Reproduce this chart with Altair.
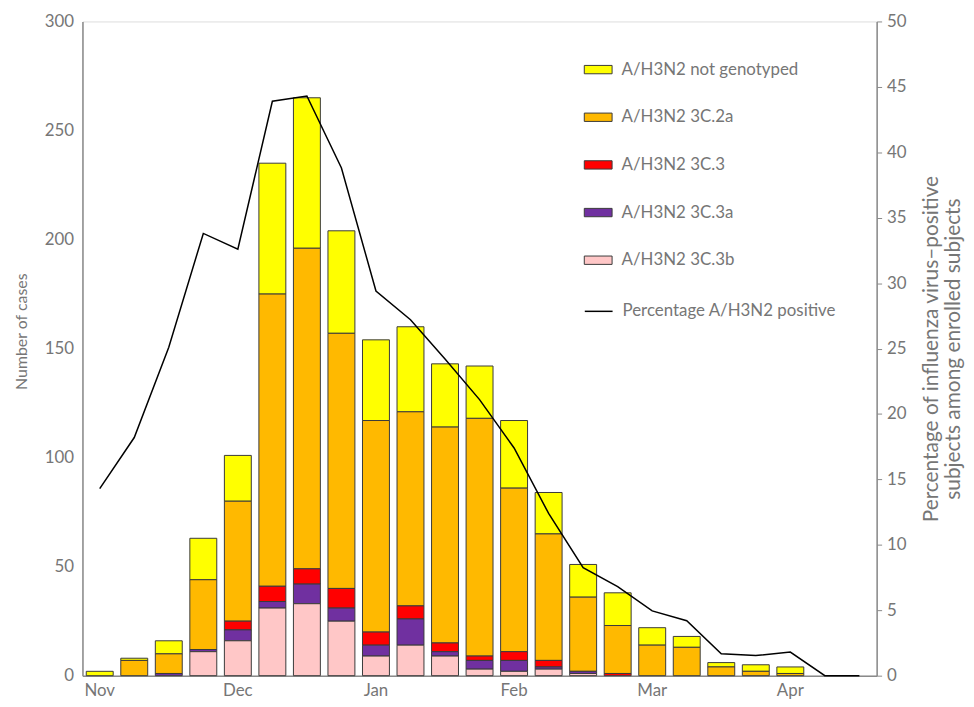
import altair as alt
import pandas as pd

weeks = [1, 2, 3, 4, 5, 6, 7, 8, 9, 10, 11, 12, 13, 14, 15, 16, 17, 18, 19, 20, 21, 22, 23]
month_weeks = [1, 5, 9, 13, 17, 21]
month_names = ["Nov", "Dec", "Jan", "Feb", "Mar", "Apr"]

not_genotyped = [2, 1, 6, 19, 21, 60, 69, 47, 37, 39, 29, 24, 31, 19, 15, 15, 8, 5, 2, 3, 3, 0, 0]
c2a = [0, 7, 9, 32, 55, 134, 147, 117, 97, 89, 99, 109, 75, 58, 34, 22, 14, 13, 4, 2, 1, 0, 0]
c3 = [0, 0, 0, 0, 4, 7, 7, 9, 6, 6, 4, 2, 4, 3, 0, 1, 0, 0, 0, 0, 0, 0, 0]
c3a = [0, 0, 1, 1, 5, 3, 9, 6, 5, 12, 2, 4, 5, 1, 1, 0, 0, 0, 0, 0, 0, 0, 0]
c3b = [0, 0, 0, 11, 16, 31, 33, 25, 9, 14, 9, 3, 2, 3, 1, 0, 0, 0, 0, 0, 0, 0, 0]
pct_positive = [14.3, 18.2, 25.1, 33.8, 32.6, 43.9, 44.3, 38.8, 29.4, 27.2, 24.2, 21.1,
                17.4, 12.4, 8.25, 6.8, 4.95, 4.2, 1.67, 1.54, 1.8, 0, 0]

series_names = ["A/H3N2 not genotyped", "A/H3N2 3C.2a", "A/H3N2 3C.3", "A/H3N2 3C.3a", "A/H3N2 3C.3b"]
series_values = [not_genotyped, c2a, c3, c3a, c3b]
series_colors = ["#FFFF00", "#FFB900", "#FF0000", "#7030A0", "#FFC7C7"]
line_name = "Percentage A/H3N2 positive"

rows = []
for si, (name, vals) in enumerate(zip(series_names, series_values)):
    for w, v in zip(weeks, vals):
        if v > 0:
            rows.append({"week": w, "series": name, "count": v, "order": len(series_names) - si})
bars_df = pd.DataFrame(rows)
line_df = pd.DataFrame({"week": weeks, "pct": pct_positive, "series": [line_name] * len(weeks)})

FONT = "Lato"
GREY = "#767676"
AXIS_GREY = "#8a8a8a"

label_expr = " : ".join(
    [f"datum.value == {w} ? '{m}'" for w, m in zip(month_weeks, month_names)]
) + " : ''"

x_enc = alt.X(
    "week:O",
    scale=alt.Scale(domain=weeks, paddingInner=0.22, paddingOuter=0.11),
    axis=alt.Axis(
        title=None, values=month_weeks, labelExpr=label_expr, labelAngle=0,
        ticks=False, labelPadding=7, labelFont=FONT, labelFontSize=17, labelColor=GREY,
        domainColor=AXIS_GREY, domainWidth=1.5,
    ),
)

bars = alt.Chart(bars_df).mark_bar(stroke="#3a3a3a", strokeWidth=1).encode(
    x=x_enc,
    y=alt.Y(
        "count:Q",
        stack="zero",
        scale=alt.Scale(domain=[0, 300], nice=False),
        axis=alt.Axis(
            title="Number of cases", values=[0, 50, 100, 150, 200, 250, 300], grid=False,
            ticks=False, labelPadding=9, labelFont=FONT, labelFontSize=17, labelColor=GREY,
            titleFont=FONT, titleFontSize=16, titleFontWeight="normal", titleColor=GREY,
            titlePadding=15, titleY=312, domainColor=AXIS_GREY, domainWidth=1.5,
        ),
    ),
    color=alt.Color(
        "series:N",
        scale=alt.Scale(domain=series_names, range=series_colors),
        legend=alt.Legend(
            title=None, orient="none", legendX=505, legendY=34,
            symbolType="M-1,-0.3H1V0.3H-1Z", symbolSize=784,
            symbolStrokeColor="#3a3a3a", symbolStrokeWidth=1, symbolOpacity=1,
            labelFont=FONT, labelFontSize=17, labelColor=GREY, labelOffset=9, labelLimit=400,
            rowPadding=25, padding=0,
        ),
    ),
    order=alt.Order("order:Q", sort="ascending"),
)

line = alt.Chart(line_df).mark_line(strokeWidth=1.5).encode(
    x=alt.X("week:O"),
    y=alt.Y(
        "pct:Q",
        scale=alt.Scale(domain=[0, 50], nice=False),
        axis=alt.Axis(
            title=["Percentage of influenza virus\u2013positive", "subjects among enrolled subjects"],
            orient="right", values=list(range(0, 55, 5)), grid=False,
            tickSize=5, tickColor=AXIS_GREY, labelPadding=5,
            labelFont=FONT, labelFontSize=17, labelColor=GREY,
            titleFont=FONT, titleFontSize=21, titleFontWeight="normal", titleColor=GREY,
            titleAngle=270, titleLineHeight=22, titlePadding=14,
            domainColor=AXIS_GREY, domainWidth=1.5,
        ),
    ),
    stroke=alt.Stroke(
        "series:N",
        scale=alt.Scale(domain=[line_name], range=["#000000"]),
        legend=alt.Legend(
            title=None, orient="none", legendX=505, legendY=277,
            symbolType="stroke", symbolSize=784, symbolStrokeWidth=1.5,
            labelFont=FONT, labelFontSize=17, labelColor=GREY, labelOffset=9, labelLimit=400,
            padding=0,
        ),
    ),
)

chart = alt.layer(bars, line).resolve_scale(
    y="independent", color="independent", stroke="independent"
).properties(
    width=800, height=659,
    autosize=alt.AutoSizeParams(type="none"),
    padding={"left": 75, "top": 11, "right": 90, "bottom": 29},
).configure_view(stroke=None).configure(background="white")

chart.save("out.html", embed_options={"renderer": "svg", "actions": False})
